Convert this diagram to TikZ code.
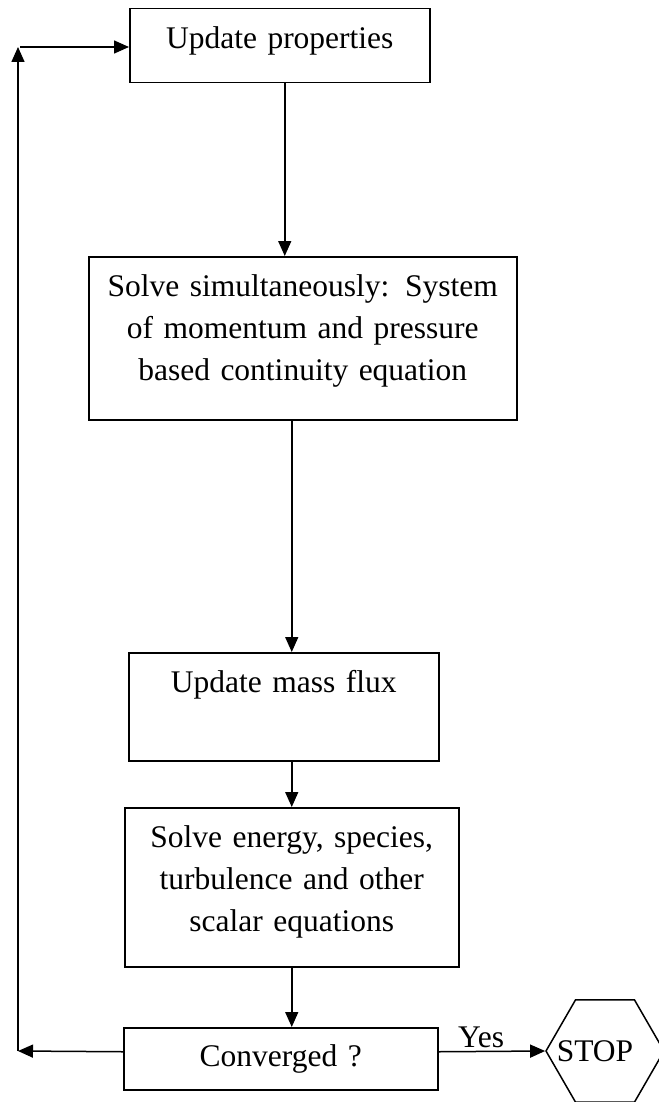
\documentclass[tikz,border=0pt]{standalone}
\usepackage{fontspec}
\setmainfont{Liberation Serif}
\usetikzlibrary{arrows.meta}
\usetikzlibrary{shapes.geometric}

\begin{document}
\begin{tikzpicture}[x=1pt,y=-1pt,font=\fontsize{31.5}{42}\selectfont]
  \useasboundingbox (0,0) rectangle (658,1102);
			\begin{scope}[every node/.style={rectangle,draw,line width=1.5pt,inner sep=0pt,anchor=north west,align=center}]
				\node[text width=300pt,text height=40pt,text depth=34pt] (upd) at (129,8) {Update properties};
				\node[text width=428pt,text height=40pt,text depth=123pt] (solve) at (88,256) {Solve simultaneously: System\\of momentum and pressure\\based continuity equation};
				\node[text width=310pt,text height=40pt,text depth=68pt] (mass) at (128,652) {Update mass flux};
				\node[text width=334pt,text height=40pt,text depth=119pt] (energy) at (124,807) {Solve energy, species,\\turbulence and other\\scalar equations};
				\node[text width=314pt,text height=39pt,text depth=23pt] (conv) at (123,1027) {Converged ?};
			\end{scope}
			\node[regular polygon,regular polygon sides=6,minimum size=118pt,inner sep=0pt,draw,line width=1.5pt] (stop) at (605,1051) {\hspace*{-20pt}STOP};
			\coordinate (lb) at (18,1051);
			\coordinate (lt) at (18,47);
      \begin{scope}[every edge/.style={draw=black,line width=1.5pt,-{Triangle[length=15pt,width=13pt]}}]
        \path ([xshift=5pt]upd.south) edge ([xshift=5pt]upd.south |- solve.north);
				\path ([xshift=8pt]mass.north |- solve.south) edge ([xshift=8pt]mass.north);
				\path (mass.south -| energy.north) edge (energy.north);
				\path (energy.south) edge (energy.south |- conv.north);
        \path ([yshift=7pt]conv.east) edge node[above,pos=0.4] {Yes} (stop.west);
        \path ([yshift=7pt]conv.west) edge (lb);
        \path (lb) edge (lt);
				\path ([xshift=2pt]lt) edge (lt -| upd.west);
      \end{scope}
    \end{tikzpicture}
\end{document}
